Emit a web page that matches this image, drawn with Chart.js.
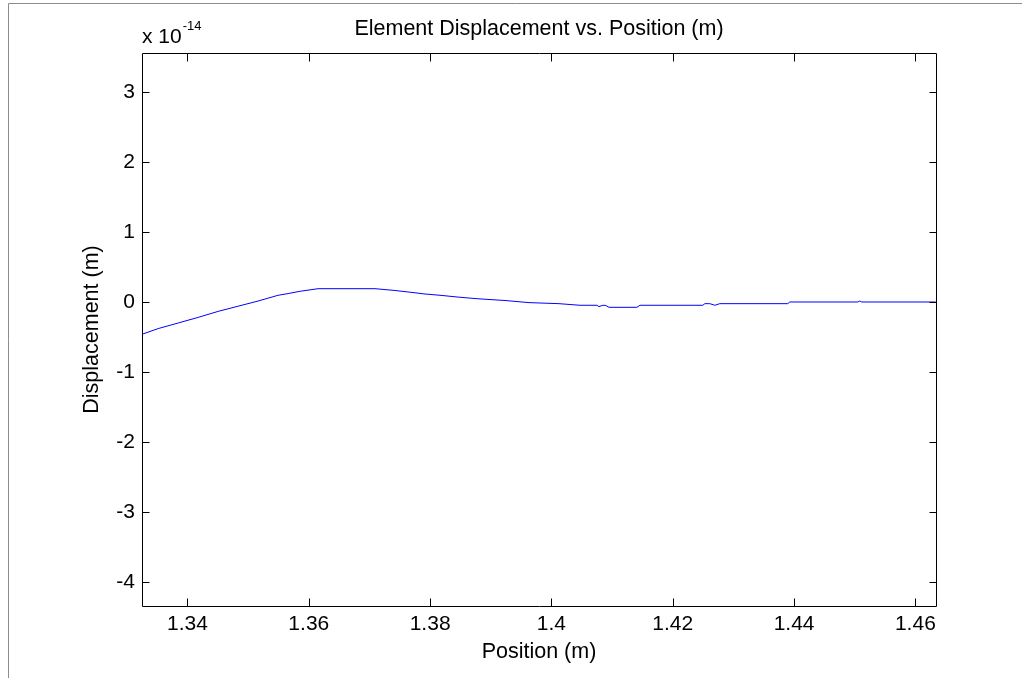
<!DOCTYPE html>
<html>
<head>
<meta charset="utf-8">
<script src="https://cdn.jsdelivr.net/npm/chart.js@4"></script>
<style>
  html, body { margin: 0; padding: 0; background: #fff; }
  #wrap { width: 1022px; height: 678px; }
</style>
</head>
<body>
<div id="wrap"><canvas id="dispChart" width="1022" height="678"></canvas></div>
<script>
// position along the element (m)
const positions = [
  1.33254, 1.33517, 1.33847, 1.34176, 1.34506, 1.34835, 1.35165, 1.35494,
  1.35659, 1.35857, 1.36153, 1.37092, 1.37389, 1.37669, 1.37916, 1.38163,
  1.38460, 1.38757, 1.39251, 1.39630, 1.40124, 1.40470, 1.40750, 1.40783,
  1.40849, 1.40898, 1.40948, 1.41409, 1.41459, 1.42496, 1.42529, 1.42611,
  1.42694, 1.42776, 1.43897, 1.43930, 1.45050, 1.45083, 1.45116, 1.46335
];
// displacement, in units of 1e-14 m
const displacement = [
  -0.46, -0.38, -0.30, -0.22, -0.134, -0.06, 0.014, 0.096,
  0.12, 0.153, 0.19, 0.19, 0.167, 0.14, 0.114, 0.096,
  0.07, 0.048, 0.02, -0.009, -0.024, -0.047, -0.047, -0.066,
  -0.047, -0.05, -0.076, -0.076, -0.047, -0.047, -0.024, -0.024,
  -0.047, -0.024, -0.024, 0, 0, 0.014, 0, 0
];
const xTicks = [1.34, 1.36, 1.38, 1.40, 1.42, 1.44, 1.46];
const yTicks = [-4, -3, -2, -1, 0, 1, 2, 3];

const FONT = 'Liberation Sans, Arial, Helvetica, sans-serif';
const TITLE = 'Element Displacement vs. Position (m)';

// MATLAB style box with inward ticks, title and exponent label
const matlabAxes = {
  id: 'matlabAxes',
  beforeDraw(chart) {
    const ctx = chart.ctx;
    ctx.save();
    ctx.strokeStyle = '#8c8c8c';
    ctx.lineWidth = 1;
    ctx.beginPath();
    ctx.moveTo(8.5, 678);
    ctx.lineTo(8.5, 3.5);
    ctx.lineTo(1022, 3.5);
    ctx.stroke();
    ctx.restore();
  },
  afterDraw(chart) {
    const ctx = chart.ctx;
    const a = chart.chartArea;
    const xs = chart.scales.x, ys = chart.scales.y;
    const L = Math.round(a.left) + 0.5, R = Math.round(a.right) + 0.5;
    const T = Math.round(a.top) + 0.5, B = Math.round(a.bottom) + 0.5;
    ctx.save();
    ctx.strokeStyle = '#000';
    ctx.lineWidth = 1;
    ctx.beginPath();
    ctx.rect(L, T, R - L, B - T);
    xTicks.forEach(v => {
      const px = Math.round(xs.getPixelForValue(v)) + 0.5;
      ctx.moveTo(px, B); ctx.lineTo(px, B - 8);
      ctx.moveTo(px, T); ctx.lineTo(px, T + 8);
    });
    yTicks.forEach(v => {
      const py = Math.round(ys.getPixelForValue(v)) + 0.5;
      ctx.moveTo(L, py); ctx.lineTo(L + 7, py);
      ctx.moveTo(R, py); ctx.lineTo(R - 7, py);
    });
    ctx.stroke();

    ctx.fillStyle = '#000';
    ctx.textAlign = 'center';
    ctx.textBaseline = 'middle';
    ctx.font = '21.5px ' + FONT;
    ctx.fillText(TITLE, (a.left + a.right) / 2, 29);

    ctx.textAlign = 'left';
    ctx.textBaseline = 'alphabetic';
    ctx.font = '21px ' + FONT;
    ctx.fillText('x 10', a.left, 43);
    const w = ctx.measureText('x 10').width;
    ctx.font = '13px ' + FONT;
    ctx.fillText('-14', a.left + w + 1, 30);
    ctx.restore();
  }
};

const ctx = document.getElementById('dispChart').getContext('2d');
const dispChart = new Chart(ctx, {
  type: 'line',
  data: {
    datasets: [{
      label: 'Displacement',
      data: positions.map((p, i) => ({ x: p, y: displacement[i] })),
      borderColor: '#0000ff',
      borderWidth: 1,
      pointRadius: 0,
      tension: 0,
      fill: false
    }]
  },
  options: {
    responsive: false,
    animation: false,
    devicePixelRatio: 1,
    layout: { padding: { left: 0, right: 86, top: 53, bottom: 0 } },
    plugins: {
      legend: { display: false },
      tooltip: { enabled: false },
      title: { display: false }
    },
    scales: {
      x: {
        type: 'linear',
        min: 1.3325,
        max: 1.4634,
        grid: { display: false, drawTicks: false },
        border: { display: false },
        afterBuildTicks: s => { s.ticks = xTicks.map(v => ({ value: v })); },
        afterFit: s => { s.height = 72; },
        ticks: {
          color: '#000',
          padding: 6,
          maxRotation: 0,
          autoSkip: false,
          font: { family: FONT, size: 21 },
          callback: v => String(Math.round(v * 100) / 100)
        },
        title: {
          display: true,
          text: 'Position (m)',
          color: '#000',
          font: { family: FONT, size: 21.5 },
          padding: { top: 0, bottom: 13 }
        }
      },
      y: {
        min: -4.343,
        max: 3.557,
        grid: { display: false, drawTicks: false },
        border: { display: false },
        afterBuildTicks: s => { s.ticks = yTicks.map(v => ({ value: v })); },
        afterFit: s => { s.width = 142; },
        ticks: {
          color: '#000',
          padding: 7,
          autoSkip: false,
          font: { family: FONT, size: 21 },
          callback: v => String(v)
        },
        title: {
          display: true,
          text: 'Displacement (m)',
          color: '#000',
          font: { family: FONT, size: 21.5 },
          padding: { top: 79, bottom: 0 }
        }
      }
    }
  },
  plugins: [matlabAxes]
});
</script>
</body>
</html>
